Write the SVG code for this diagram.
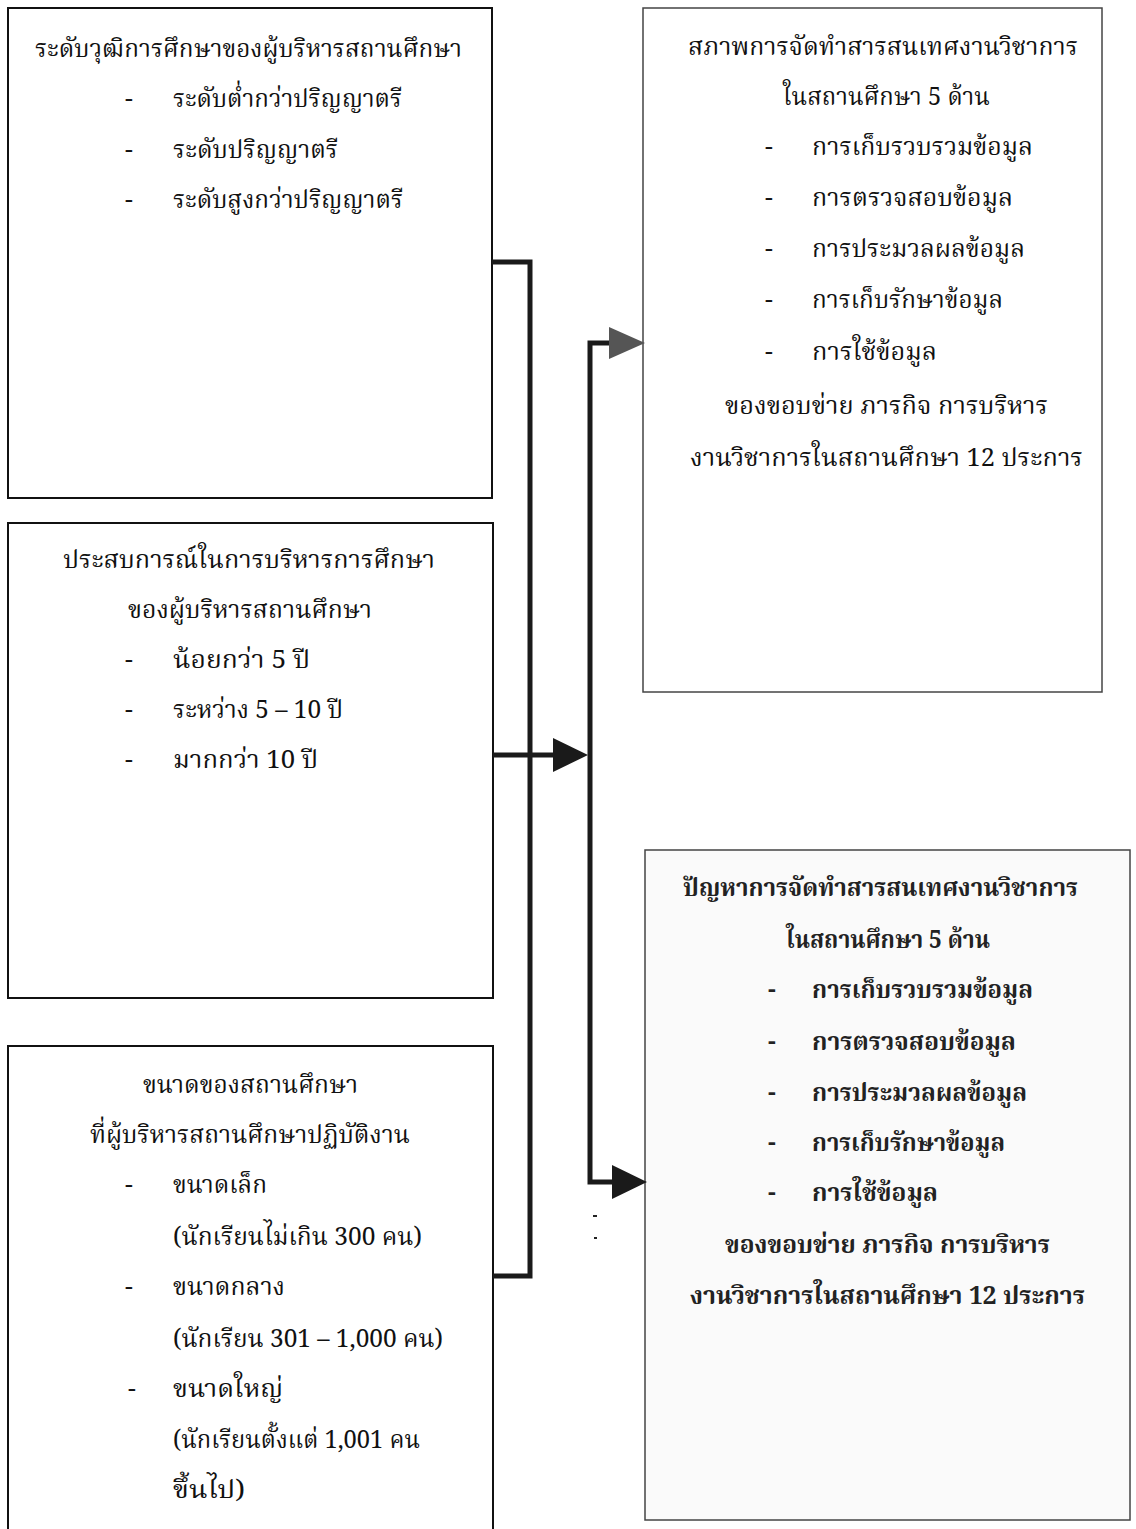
<svg xmlns="http://www.w3.org/2000/svg" width="1136" height="1529" viewBox="0 0 1136 1529">
<style>
.box{fill:#fff;stroke:#111;stroke-width:2}
.rbox{fill:#fff;stroke:#444;stroke-width:1.5}
.rbox2{fill:#fafafa;stroke:#444;stroke-width:1.5}
text{font-family:"Noto Serif Thai","Noto Sans Thai","Liberation Serif",serif;font-size:25px;fill:#111}
.b{font-weight:bold;fill:#222}
.conn{fill:none;stroke:#1a1a1a;stroke-width:5;stroke-linejoin:miter}
</style>
<rect width="1136" height="1529" fill="#fff"/>
<g id="node-qualification">
<rect class="box" x="8" y="8" width="484" height="490"/>
<text x="35" y="57" textLength="427" lengthAdjust="spacingAndGlyphs">ระดับวุฒิการศึกษาของผู้บริหารสถานศึกษา</text>
<text x="125" y="107">-</text><text x="173" y="107" textLength="229" lengthAdjust="spacingAndGlyphs">ระดับต่ำกว่าปริญญาตรี</text>
<text x="125" y="158">-</text><text x="173" y="158" textLength="165" lengthAdjust="spacingAndGlyphs">ระดับปริญญาตรี</text>
<text x="125" y="208">-</text><text x="173" y="208" textLength="230" lengthAdjust="spacingAndGlyphs">ระดับสูงกว่าปริญญาตรี</text>
</g>
<g id="node-experience">
<rect class="box" x="8" y="523" width="485" height="475"/>
<text x="63" y="568" textLength="372" lengthAdjust="spacingAndGlyphs">ประสบการณ์ในการบริหารการศึกษา</text>
<text x="128" y="618" textLength="244" lengthAdjust="spacingAndGlyphs">ของผู้บริหารสถานศึกษา</text>
<text x="125" y="668">-</text><text x="173" y="668" textLength="137" lengthAdjust="spacingAndGlyphs">น้อยกว่า 5 ปี</text>
<text x="125" y="718">-</text><text x="173" y="718" textLength="170" lengthAdjust="spacingAndGlyphs">ระหว่าง 5 – 10 ปี</text>
<text x="125" y="768">-</text><text x="173" y="768" textLength="145" lengthAdjust="spacingAndGlyphs">มากกว่า 10 ปี</text>
</g>
<g id="node-size">
<rect class="box" x="8" y="1046" width="485" height="500"/>
<text x="143" y="1093" textLength="215" lengthAdjust="spacingAndGlyphs">ขนาดของสถานศึกษา</text>
<text x="90" y="1143" textLength="320" lengthAdjust="spacingAndGlyphs">ที่ผู้บริหารสถานศึกษาปฏิบัติงาน</text>
<text x="125" y="1193">-</text><text x="173" y="1193" textLength="94" lengthAdjust="spacingAndGlyphs">ขนาดเล็ก</text>
<text x="173" y="1245" textLength="249" lengthAdjust="spacingAndGlyphs">(นักเรียนไม่เกิน 300 คน)</text>
<text x="125" y="1295">-</text><text x="173" y="1295" textLength="112" lengthAdjust="spacingAndGlyphs">ขนาดกลาง</text>
<text x="173" y="1347" textLength="270" lengthAdjust="spacingAndGlyphs">(นักเรียน 301 – 1,000  คน)</text>
<text x="128" y="1397" fill="#777">-</text><text x="173" y="1397" textLength="110" lengthAdjust="spacingAndGlyphs">ขนาดใหญ่</text>
<text x="173" y="1448" textLength="247" lengthAdjust="spacingAndGlyphs">(นักเรียนตั้งแต่ 1,001 คน</text>
<text x="173" y="1498" textLength="72" lengthAdjust="spacingAndGlyphs">ขึ้นไป)</text>
</g>
<g id="node-condition">
<rect class="rbox" x="643" y="8" width="459" height="684"/>
<text x="688" y="55" textLength="390" lengthAdjust="spacingAndGlyphs">สภาพการจัดทำสารสนเทศงานวิชาการ</text>
<text x="783" y="105" textLength="207" lengthAdjust="spacingAndGlyphs">ในสถานศึกษา 5 ด้าน</text>
<text x="765" y="155">-</text><text x="812" y="155" textLength="221" lengthAdjust="spacingAndGlyphs">การเก็บรวบรวมข้อมูล</text>
<text x="765" y="206">-</text><text x="812" y="206" textLength="201" lengthAdjust="spacingAndGlyphs">การตรวจสอบข้อมูล</text>
<text x="765" y="257">-</text><text x="812" y="257" textLength="213" lengthAdjust="spacingAndGlyphs">การประมวลผลข้อมูล</text>
<text x="765" y="308" fill="#888">-</text><text x="812" y="308" textLength="191" lengthAdjust="spacingAndGlyphs">การเก็บรักษาข้อมูล</text>
<text x="765" y="360">-</text><text x="812" y="360" textLength="125" lengthAdjust="spacingAndGlyphs">การใช้ข้อมูล</text>
<text x="725" y="414" textLength="323" lengthAdjust="spacingAndGlyphs">ของขอบข่าย ภารกิจ การบริหาร</text>
<text x="690" y="466" textLength="393" lengthAdjust="spacingAndGlyphs">งานวิชาการในสถานศึกษา 12 ประการ</text>
</g>
<g id="node-problem">
<rect class="rbox2" x="645" y="850" width="485" height="670"/>
<text class="b" x="683" y="896" textLength="395" lengthAdjust="spacingAndGlyphs">ปัญหาการจัดทำสารสนเทศงานวิชาการ</text>
<text class="b" x="786" y="948" textLength="204" lengthAdjust="spacingAndGlyphs">ในสถานศึกษา 5 ด้าน</text>
<text class="b" x="768" y="998">-</text><text class="b" x="812" y="998" textLength="221" lengthAdjust="spacingAndGlyphs">การเก็บรวบรวมข้อมูล</text>
<text class="b" x="768" y="1050">-</text><text class="b" x="812" y="1050" textLength="204" lengthAdjust="spacingAndGlyphs">การตรวจสอบข้อมูล</text>
<text class="b" x="768" y="1101">-</text><text class="b" x="812" y="1101" textLength="215" lengthAdjust="spacingAndGlyphs">การประมวลผลข้อมูล</text>
<text class="b" x="768" y="1151">-</text><text class="b" x="812" y="1151" textLength="193" lengthAdjust="spacingAndGlyphs">การเก็บรักษาข้อมูล</text>
<text class="b" x="768" y="1201">-</text><text class="b" x="812" y="1201" textLength="126" lengthAdjust="spacingAndGlyphs">การใช้ข้อมูล</text>
<text class="b" x="725" y="1253" textLength="325" lengthAdjust="spacingAndGlyphs">ของขอบข่าย ภารกิจ การบริหาร</text>
<text class="b" x="690" y="1304" textLength="395" lengthAdjust="spacingAndGlyphs">งานวิชาการในสถานศึกษา 12 ประการ</text>
</g>
<g id="connectors">
<path class="conn" d="M492,262 H530 V1276 H493"/>
<path class="conn" d="M493,755 H556"/>
<polygon points="553,738 588,755 553,772" fill="#1a1a1a"/>
<path class="conn" d="M611,343 H590 V1182 H614"/>
<polygon points="609,327 645,343 609,359" fill="#555"/>
<polygon points="612,1165 647,1182 612,1199" fill="#1a1a1a"/>
</g>
<g id="marks" fill="#222">
<rect x="593" y="1215" width="4" height="2"/>
<rect x="594" y="1237" width="3" height="2"/>
</g>
</svg>
